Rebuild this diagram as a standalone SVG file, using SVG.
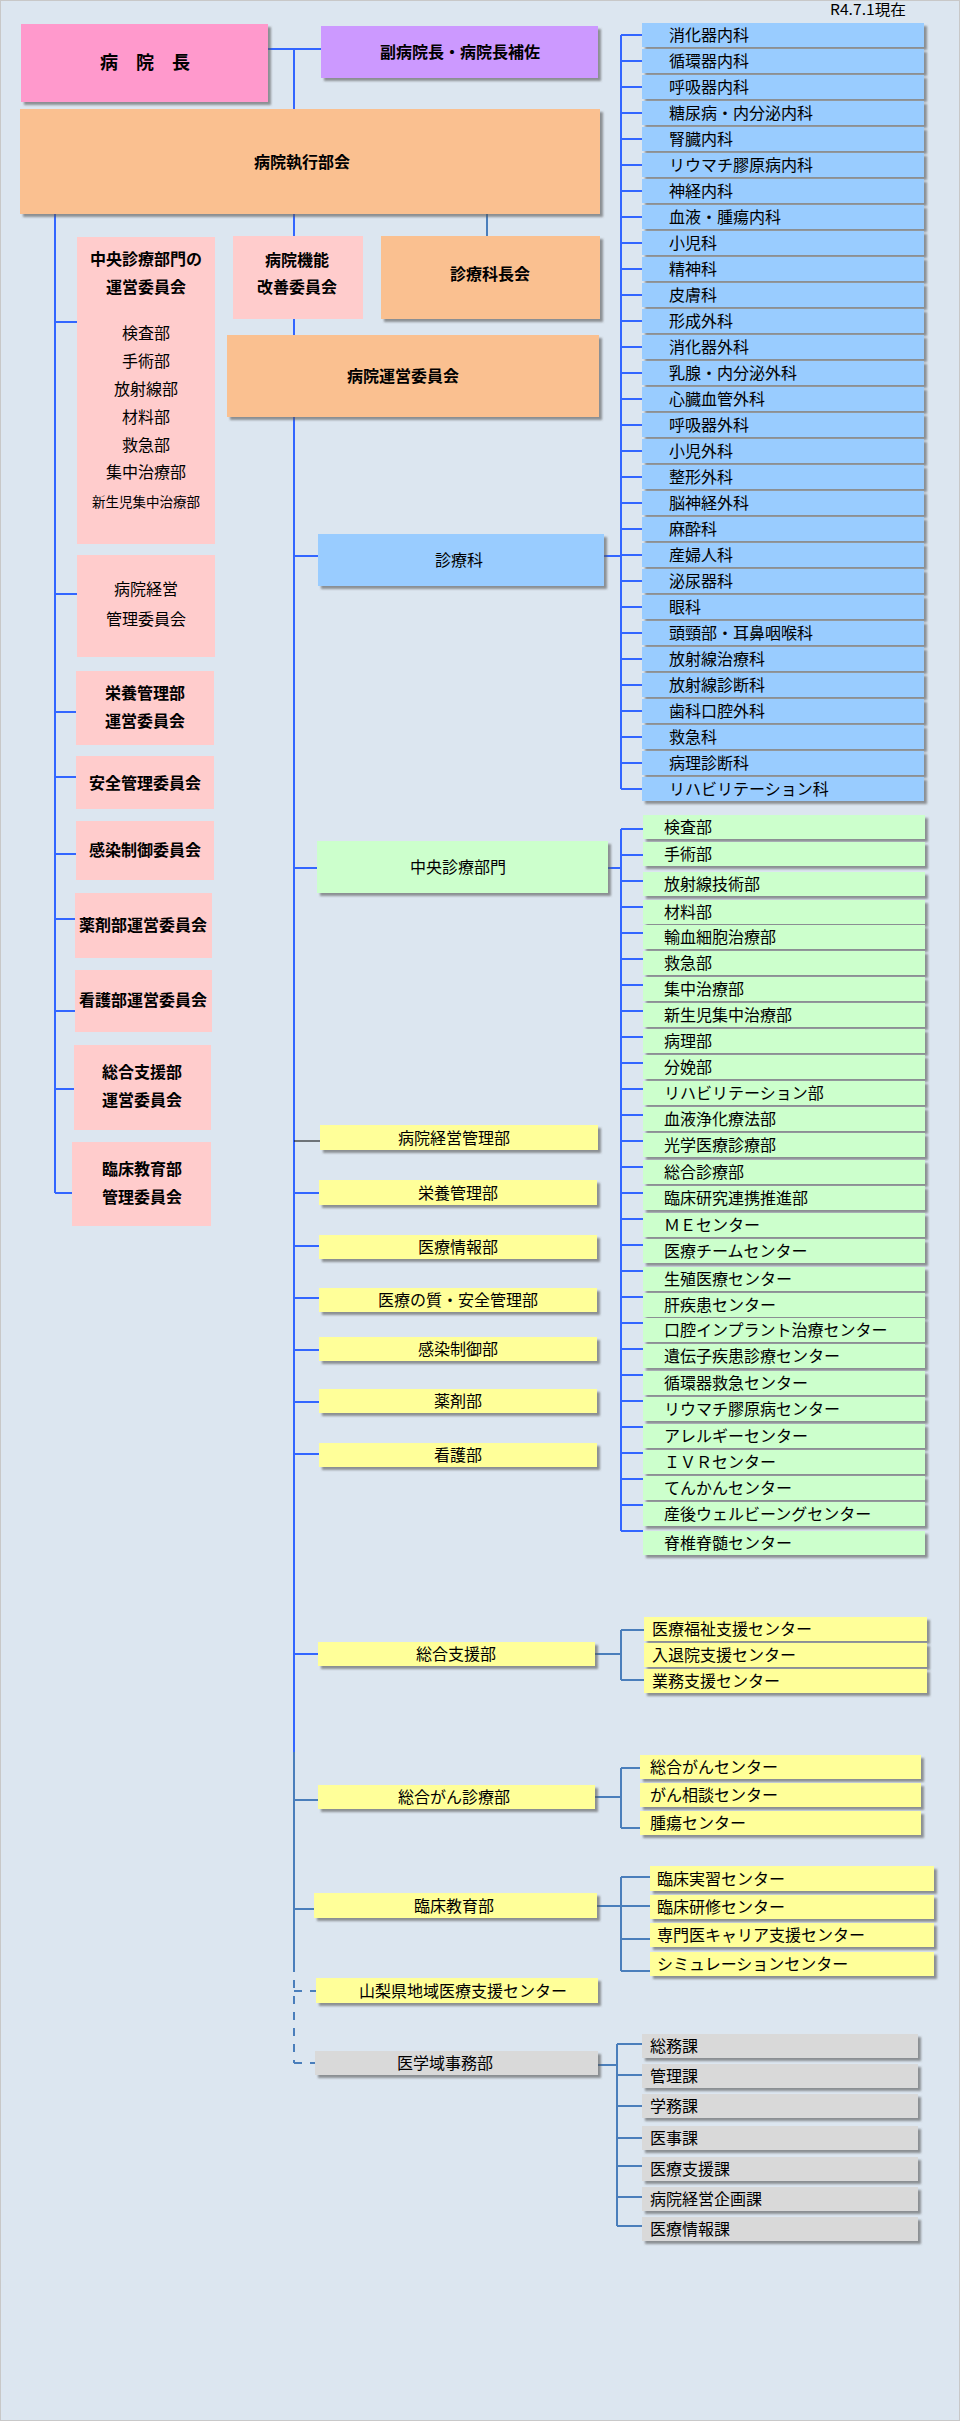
<svg xmlns="http://www.w3.org/2000/svg" width="960" height="2421" viewBox="0 0 960 2421">
<defs>
<filter id="sh" x="-5%" y="-30%" width="115%" height="180%">
<feDropShadow dx="3" dy="3" stdDeviation="1.2" flood-color="#555" flood-opacity="0.6"/>
</filter>
<style>
text{font-family:"Noto Sans CJK JP","Noto Sans",sans-serif;font-size:16px;fill:#000}
.b{font-weight:bold}
.c{text-anchor:middle}
.s{filter:url(#sh)}
.pk{fill:#ff99cc}.pu{fill:#cc99ff}.or{fill:#fac090}.cm{fill:#ffcccc}
.bl{fill:#99ccff}.gr{fill:#ccffcc}.ye{fill:#ffff99}.gy{fill:#d9d9d9}
.ln{stroke:#3366ff;stroke-width:2;fill:none}
.ln2{stroke:#4a7ebb;stroke-width:2;fill:none}
.dl{stroke:#4a7ebb;stroke-width:2;fill:none;stroke-dasharray:8 8}
.bk{stroke:#000;stroke-width:1;fill:none}
</style>
</defs>
<rect x="0.5" y="0.5" width="959" height="2420" fill="#dce6f0" stroke="#c8c8c8"/>
<text x="830" y="15" style="font-size:15px" textLength="76" lengthAdjust="spacingAndGlyphs">R4.7.1現在</text>

<g id="connectors">
<path class="ln" d="M268 49H321M294 49V109M294 214V236M294 319V335M294 417V1752"/>
<path class="ln2" d="M487 214V236M294 1752V1964"/>
<path class="dl" d="M294 1964V2063M294 1991H316M294 2063H315"/>
<path class="ln" d="M55 214V1193M55 322H77M55 594H77M55 712H76M55 777H76M55 854H76M55 919H75M55 1011H75M55 1089H74M55 1193H72"/>
<path class="ln" d="M294 556H318M604 556H621M294 868H317M608 868H621M294 1193H319M294 1246H319M294 1298H319M294 1350H319M294 1402H319M294 1454H319M294 1654H318"/>
<path class="bk" d="M294 1141H320"/>
<path class="ln" d="M621 35V789M621 35H642M621 61H642M621 87H642M621 113H642M621 139H642M621 165H642M621 191H642M621 217H642M621 243H642M621 269H642M621 295H642M621 321H642M621 347H642M621 373H642M621 399H642M621 425H642M621 451H642M621 477H642M621 503H642M621 529H642M621 555H642M621 581H642M621 607H642M621 633H642M621 659H642M621 685H642M621 711H642M621 737H642M621 763H642M621 789H642"/>
<path class="ln" d="M621 829V1531M621 829H643M621 855H643M621 881H643M621 907H643M621 933H643M621 959H643M621 985H643M621 1011H643M621 1037H643M621 1063H643M621 1089H643M621 1115H643M621 1141H643M621 1167H643M621 1193H643M621 1219H643M621 1245H643M621 1271H643M621 1297H643M621 1323H643M621 1349H643M621 1375H643M621 1401H643M621 1427H643M621 1453H643M621 1479H643M621 1505H643M621 1531H643"/>
<path class="ln2" d="M294 1800H318M294 1909H314"/>
<path class="ln2" d="M595 1654H621M621 1630V1680M621 1630H644M621 1680H644"/>
<path class="ln2" d="M595 1797H621M621 1768V1828M621 1768H640M621 1828H640"/>
<path class="ln2" d="M597 1906H650M621 1877V1971M621 1877H650M621 1939H650M621 1971H650"/>
<path class="ln2" d="M598 2065H617M617 2044V2226M617 2044H642M617 2075H642M617 2106H642M617 2138H642M617 2166H642M617 2197H642M617 2226H642"/>
</g>

<g id="n-director"><rect class="pk s" x="21" y="24" width="247" height="78"/><text class="b c" x="145" y="69" style="font-size:18px">病　院　長</text></g>
<g id="n-vice"><rect class="pu s" x="321" y="26" width="277" height="52"/><text class="b c" x="460" y="58">副病院長・病院長補佐</text></g>
<g id="n-exec"><rect class="or s" x="20" y="109" width="580" height="105"/><text class="b c" x="302" y="168">病院執行部会</text></g>
<g id="n-kaizen"><rect class="cm" x="233" y="236" width="130" height="83"/><text class="b c" x="297" y="266">病院機能</text><text class="b c" x="297" y="293">改善委員会</text></g>
<g id="n-chief"><rect class="or s" x="381" y="236" width="219" height="83"/><text class="b c" x="490" y="280">診療科長会</text></g>
<g id="n-unei"><rect class="or s" x="227" y="335" width="372" height="82"/><text class="b c" x="403" y="382">病院運営委員会</text></g>

<g id="n-c1"><rect class="cm" x="77" y="237" width="138" height="307"/>
<text class="b c" x="146" y="265">中央診療部門の</text><text class="b c" x="146" y="293">運営委員会</text>
<text class="c" x="146" y="339">検査部</text><text class="c" x="146" y="367">手術部</text><text class="c" x="146" y="395">放射線部</text><text class="c" x="146" y="423">材料部</text><text class="c" x="146" y="451">救急部</text><text class="c" x="146" y="478">集中治療部</text><text class="c" x="146" y="507" style="font-size:13.5px">新生児集中治療部</text></g>
<g id="n-c2"><rect class="cm" x="77" y="555" width="138" height="102"/><text class="c" x="146" y="595">病院経営</text><text class="c" x="146" y="625">管理委員会</text></g>
<g id="n-c3"><rect class="cm" x="76" y="671" width="138" height="74"/><text class="b c" x="145" y="699">栄養管理部</text><text class="b c" x="145" y="727">運営委員会</text></g>
<g id="n-c4"><rect class="cm" x="76" y="756" width="138" height="53"/><text class="b c" x="145" y="789">安全管理委員会</text></g>
<g id="n-c5"><rect class="cm" x="76" y="821" width="138" height="59"/><text class="b c" x="145" y="856">感染制御委員会</text></g>
<g id="n-c6"><rect class="cm" x="75" y="893" width="137" height="65"/><text class="b c" x="143" y="931">薬剤部運営委員会</text></g>
<g id="n-c7"><rect class="cm" x="75" y="970" width="137" height="62"/><text class="b c" x="143" y="1006">看護部運営委員会</text></g>
<g id="n-c8"><rect class="cm" x="74" y="1045" width="137" height="85"/><text class="b c" x="142" y="1078">総合支援部</text><text class="b c" x="142" y="1106">運営委員会</text></g>
<g id="n-c9"><rect class="cm" x="72" y="1142" width="139" height="84"/><text class="b c" x="142" y="1175">臨床教育部</text><text class="b c" x="142" y="1203">管理委員会</text></g>

<g id="n-shinryoka"><rect class="bl s" x="318" y="534" width="286" height="52"/><text class="c" x="459" y="566">診療科</text></g>
<g id="n-chuo"><rect class="gr s" x="317" y="841" width="291" height="52"/><text class="c" x="458" y="873">中央診療部門</text></g>
<g id="n-m1"><rect class="ye s" x="320" y="1125" width="278" height="25"/><text class="c" x="454" y="1144">病院経営管理部</text></g>
<g id="n-m2"><rect class="ye s" x="319" y="1180" width="278" height="25"/><text class="c" x="458" y="1199">栄養管理部</text></g>
<g id="n-m3"><rect class="ye s" x="319" y="1235" width="278" height="24"/><text class="c" x="458" y="1253">医療情報部</text></g>
<g id="n-m4"><rect class="ye s" x="319" y="1288" width="278" height="24"/><text class="c" x="458" y="1306">医療の質・安全管理部</text></g>
<g id="n-m5"><rect class="ye s" x="319" y="1337" width="278" height="24"/><text class="c" x="458" y="1355">感染制御部</text></g>
<g id="n-m6"><rect class="ye s" x="319" y="1389" width="278" height="24"/><text class="c" x="458" y="1407">薬剤部</text></g>
<g id="n-m7"><rect class="ye s" x="319" y="1443" width="278" height="24"/><text class="c" x="458" y="1461">看護部</text></g>
<g id="n-m8"><rect class="ye s" x="318" y="1642" width="277" height="24"/><text class="c" x="456" y="1660">総合支援部</text></g>
<g id="n-m9"><rect class="ye s" x="318" y="1785" width="277" height="24"/><text class="c" x="454" y="1803">総合がん診療部</text></g>
<g id="n-m10"><rect class="ye s" x="314" y="1893" width="283" height="25"/><text class="c" x="454" y="1912">臨床教育部</text></g>
<g id="n-m11"><rect class="ye s" x="316" y="1978" width="282" height="25"/><text class="c" x="463" y="1997">山梨県地域医療支援センター</text></g>
<g id="n-m12"><rect class="gy s" x="315" y="2051" width="283" height="24"/><text class="c" x="445" y="2069">医学域事務部</text></g>

<g id="n-depts">
<rect class="bl s" x="642" y="23" width="282" height="24"/><text x="669" y="41">消化器内科</text>
<rect class="bl s" x="642" y="49" width="282" height="24"/><text x="669" y="67">循環器内科</text>
<rect class="bl s" x="642" y="75" width="282" height="24"/><text x="669" y="93">呼吸器内科</text>
<rect class="bl s" x="642" y="101" width="282" height="24"/><text x="669" y="119">糖尿病・内分泌内科</text>
<rect class="bl s" x="642" y="127" width="282" height="24"/><text x="669" y="145">腎臓内科</text>
<rect class="bl s" x="642" y="153" width="282" height="24"/><text x="669" y="171">リウマチ膠原病内科</text>
<rect class="bl s" x="642" y="179" width="282" height="24"/><text x="669" y="197">神経内科</text>
<rect class="bl s" x="642" y="205" width="282" height="24"/><text x="669" y="223">血液・腫瘍内科</text>
<rect class="bl s" x="642" y="231" width="282" height="24"/><text x="669" y="249">小児科</text>
<rect class="bl s" x="642" y="257" width="282" height="24"/><text x="669" y="275">精神科</text>
<rect class="bl s" x="642" y="283" width="282" height="24"/><text x="669" y="301">皮膚科</text>
<rect class="bl s" x="642" y="309" width="282" height="24"/><text x="669" y="327">形成外科</text>
<rect class="bl s" x="642" y="335" width="282" height="24"/><text x="669" y="353">消化器外科</text>
<rect class="bl s" x="642" y="361" width="282" height="24"/><text x="669" y="379">乳腺・内分泌外科</text>
<rect class="bl s" x="642" y="387" width="282" height="24"/><text x="669" y="405">心臓血管外科</text>
<rect class="bl s" x="642" y="413" width="282" height="24"/><text x="669" y="431">呼吸器外科</text>
<rect class="bl s" x="642" y="439" width="282" height="24"/><text x="669" y="457">小児外科</text>
<rect class="bl s" x="642" y="465" width="282" height="24"/><text x="669" y="483">整形外科</text>
<rect class="bl s" x="642" y="491" width="282" height="24"/><text x="669" y="509">脳神経外科</text>
<rect class="bl s" x="642" y="517" width="282" height="24"/><text x="669" y="535">麻酔科</text>
<rect class="bl s" x="642" y="543" width="282" height="24"/><text x="669" y="561">産婦人科</text>
<rect class="bl s" x="642" y="569" width="282" height="24"/><text x="669" y="587">泌尿器科</text>
<rect class="bl s" x="642" y="595" width="282" height="24"/><text x="669" y="613">眼科</text>
<rect class="bl s" x="642" y="621" width="282" height="24"/><text x="669" y="639">頭頸部・耳鼻咽喉科</text>
<rect class="bl s" x="642" y="647" width="282" height="24"/><text x="669" y="665">放射線治療科</text>
<rect class="bl s" x="642" y="673" width="282" height="24"/><text x="669" y="691">放射線診断科</text>
<rect class="bl s" x="642" y="699" width="282" height="24"/><text x="669" y="717">歯科口腔外科</text>
<rect class="bl s" x="642" y="725" width="282" height="24"/><text x="669" y="743">救急科</text>
<rect class="bl s" x="642" y="751" width="282" height="24"/><text x="669" y="769">病理診断科</text>
<rect class="bl s" x="642" y="777" width="282" height="24"/><text x="669" y="795">リハビリテーション科</text>
</g>

<g id="n-central">
<rect class="gr s" x="643" y="815" width="282" height="24"/><text x="664" y="833">検査部</text>
<rect class="gr s" x="643" y="842" width="282" height="24"/><text x="664" y="860">手術部</text>
<rect class="gr s" x="643" y="872" width="282" height="24"/><text x="664" y="890">放射線技術部</text>
<rect class="gr s" x="643" y="900" width="282" height="24"/><text x="664" y="918">材料部</text>
<rect class="gr s" x="643" y="925" width="282" height="24"/><text x="664" y="943">輸血細胞治療部</text>
<rect class="gr s" x="643" y="951" width="282" height="24"/><text x="664" y="969">救急部</text>
<rect class="gr s" x="643" y="977" width="282" height="24"/><text x="664" y="995">集中治療部</text>
<rect class="gr s" x="643" y="1003" width="282" height="24"/><text x="664" y="1021">新生児集中治療部</text>
<rect class="gr s" x="643" y="1029" width="282" height="24"/><text x="664" y="1047">病理部</text>
<rect class="gr s" x="643" y="1055" width="282" height="24"/><text x="664" y="1073">分娩部</text>
<rect class="gr s" x="643" y="1081" width="282" height="24"/><text x="664" y="1099">リハビリテーション部</text>
<rect class="gr s" x="643" y="1107" width="282" height="24"/><text x="664" y="1125">血液浄化療法部</text>
<rect class="gr s" x="643" y="1133" width="282" height="24"/><text x="664" y="1151">光学医療診療部</text>
<rect class="gr s" x="643" y="1160" width="282" height="24"/><text x="664" y="1178">総合診療部</text>
<rect class="gr s" x="643" y="1186" width="282" height="24"/><text x="664" y="1204">臨床研究連携推進部</text>
<rect class="gr s" x="643" y="1213" width="282" height="24"/><text x="664" y="1231">ＭＥセンター</text>
<rect class="gr s" x="643" y="1239" width="282" height="24"/><text x="664" y="1257">医療チームセンター</text>
<rect class="gr s" x="643" y="1267" width="282" height="24"/><text x="664" y="1285">生殖医療センター</text>
<rect class="gr s" x="643" y="1293" width="282" height="24"/><text x="664" y="1311">肝疾患センター</text>
<rect class="gr s" x="643" y="1318" width="282" height="24"/><text x="664" y="1336">口腔インプラント治療センター</text>
<rect class="gr s" x="643" y="1344" width="282" height="24"/><text x="664" y="1362">遺伝子疾患診療センター</text>
<rect class="gr s" x="643" y="1371" width="282" height="24"/><text x="664" y="1389">循環器救急センター</text>
<rect class="gr s" x="643" y="1397" width="282" height="24"/><text x="664" y="1415">リウマチ膠原病センター</text>
<rect class="gr s" x="643" y="1424" width="282" height="24"/><text x="664" y="1442">アレルギーセンター</text>
<rect class="gr s" x="643" y="1450" width="282" height="24"/><text x="664" y="1468">ＩＶＲセンター</text>
<rect class="gr s" x="643" y="1476" width="282" height="24"/><text x="664" y="1494">てんかんセンター</text>
<rect class="gr s" x="643" y="1502" width="282" height="24"/><text x="664" y="1520">産後ウェルビーングセンター</text>
<rect class="gr s" x="643" y="1531" width="282" height="24"/><text x="664" y="1549">脊椎脊髄センター</text>
</g>

<g id="n-sogoshien">
<rect class="ye s" x="644" y="1617" width="283" height="24"/><text x="652" y="1635">医療福祉支援センター</text>
<rect class="ye s" x="644" y="1643" width="283" height="24"/><text x="652" y="1661">入退院支援センター</text>
<rect class="ye s" x="644" y="1669" width="283" height="24"/><text x="652" y="1687">業務支援センター</text>
</g>
<g id="n-gan">
<rect class="ye s" x="640" y="1755" width="281" height="24"/><text x="650" y="1773">総合がんセンター</text>
<rect class="ye s" x="640" y="1783" width="281" height="24"/><text x="650" y="1801">がん相談センター</text>
<rect class="ye s" x="640" y="1811" width="281" height="24"/><text x="650" y="1829">腫瘍センター</text>
</g>
<g id="n-kyoiku">
<rect class="ye s" x="650" y="1866" width="284" height="25"/><text x="657" y="1885">臨床実習センター</text>
<rect class="ye s" x="650" y="1895" width="284" height="24"/><text x="657" y="1913">臨床研修センター</text>
<rect class="ye s" x="650" y="1923" width="284" height="24"/><text x="657" y="1941">専門医キャリア支援センター</text>
<rect class="ye s" x="650" y="1952" width="284" height="24"/><text x="657" y="1970">シミュレーションセンター</text>
</g>
<g id="n-jimu">
<rect class="gy s" x="642" y="2034" width="276" height="24"/><text x="650" y="2052">総務課</text>
<rect class="gy s" x="642" y="2064" width="276" height="24"/><text x="650" y="2082">管理課</text>
<rect class="gy s" x="642" y="2094" width="276" height="24"/><text x="650" y="2112">学務課</text>
<rect class="gy s" x="642" y="2126" width="276" height="24"/><text x="650" y="2144">医事課</text>
<rect class="gy s" x="642" y="2157" width="276" height="24"/><text x="650" y="2175">医療支援課</text>
<rect class="gy s" x="642" y="2187" width="276" height="24"/><text x="650" y="2205">病院経営企画課</text>
<rect class="gy s" x="642" y="2217" width="276" height="24"/><text x="650" y="2235">医療情報課</text>
</g>
</svg>
